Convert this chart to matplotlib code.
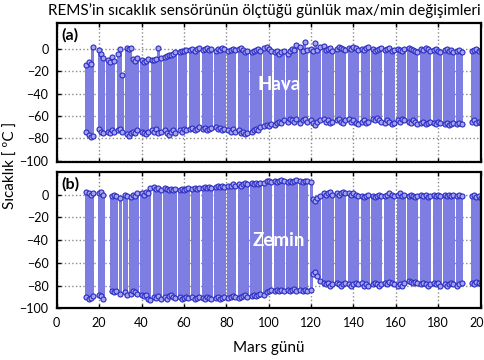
import numpy as np
import matplotlib
matplotlib.use("Agg")
import matplotlib.pyplot as plt

plt.rcParams['font.family'] = ['Lato', 'DejaVu Sans']

N = None
first_sol = 14
last_sol = 200

# Hava (air) daily max/min, sols 14..200, None = no data
hava_max = [
    -14, -12, -13, 2, N, N, -1, -4, -8, N,
    -10, -12, -7, -11, N, -4, 0, -23, N, 1,
    0, 1, -9, -11, -8, N, -10, -12, -11, -9,
    N, -10, -10, -9, 1, -8, N, -7, -6, -5,
    -5, -4, -3, N, -3, -2, -2, -1, N, -1,
    0, -2, 0, 1, N, -1, 0, 1, -1, 0,
    N, -2, 0, -1, 1, 0, N, -2, -1, 0,
    -1, N, 0, 1, -1, -3, -2, N, -3, -2,
    -1, 0, -2, N, 1, 2, 0, -2, N, -3,
    -2, -4, -3, -2, N, -4, -2, 0, -1, 4,
    N, 2, -2, 6, -1, N, 0, -2, 5, -1,
    2, N, 3, -1, 0, 1, -2, N, 0, 2,
    1, 0, -1, N, 1, 0, 2, 1, -1, N,
    0, -1, 1, 2, N, 0, -2, -1, 0, 1,
    N, -1, 0, 1, -2, -1, N, 0, -1, -2,
    0, N, 1, 0, -1, -2, -3, N, 0, -1,
    1, 0, -2, N, -1, 0, -2, -3, N, -1,
    0, -2, -1, -3, N, -2, -1, -3, N, N,
    N, N, -2, -1, 0, -2, -1,
]
hava_min = [
    -74, -77, -79, -78, N, N, -72, -74, -75, N,
    -74, -75, -73, -74, N, -73, -72, -74, N, -76,
    -78, -75, -74, -75, -73, N, -74, -75, -76, -74,
    N, -73, -74, -72, -75, -74, N, -73, -75, -77,
    -74, -73, -75, N, -73, -74, -72, -73, N, -72,
    -71, -73, -72, -70, N, -72, -71, -73, -72, -71,
    N, -70, -72, -71, -73, -72, N, -73, -74, -72,
    -74, N, -73, -75, -74, -76, -75, N, -74, -73,
    -72, -73, -70, N, -69, -68, -69, -67, N, -68,
    -66, -65, -66, -64, N, -65, -63, -64, -65, -63,
    N, -66, -64, -63, -65, N, -64, -66, -68, -65,
    -64, N, -63, -65, -64, -66, -65, N, -64, -63,
    -65, -66, -64, N, -63, -65, -64, -66, -67, N,
    -65, -64, -66, -65, N, -63, -64, -62, -64, -65,
    N, -66, -64, -65, -67, -66, N, -64, -65, -63,
    -64, N, -65, -66, -64, -65, -67, N, -66, -65,
    -67, -66, -65, N, -66, -67, -65, -66, N, -67,
    -66, -68, -67, -66, N, -67, -66, -67, N, N,
    N, N, -65, -64, -66, -65, -66,
]

# Zemin (ground) daily max/min, sols 14..200
zemin_max = [
    2, 1, 0, 1, N, N, 1, 2, 0, N,
    N, N, -1, 0, -1, N, -3, N, 0, -1,
    N, -2, 0, -1, 1, N, 1, 0, 2, 1,
    6, N, 7, 5, 6, 4, N, 6, 5, 4,
    5, 4, 5, N, 4, 5, 4, 5, 6, N,
    5, 6, 5, 6, N, 6, 7, 6, 7, 6,
    N, 7, 8, 7, 8, 7, N, 8, 8, 9,
    8, N, 9, 8, 9, 10, 9, N, 10, 9,
    10, 9, 10, N, 10, 12, 12, 11, N, 12,
    11, 12, 13, 12, N, 11, 12, 11, 12, 13,
    N, 12, 11, 12, 12, N, 11, -4, -6, -3,
    -1, N, 1, 0, 1, 2, 0, N, 1, 0,
    1, 2, 1, N, 1, 0, 1, 0, -1, N,
    -1, -2, -1, 0, N, -1, -2, -1, 0, -1,
    N, -1, 0, 1, 0, -1, N, 0, 1, -1,
    0, N, -1, 0, -1, -2, -1, N, 0, -1,
    0, -2, -1, N, 0, -1, 0, -1, N, 0,
    -1, 0, -1, 0, N, -1, 0, -1, N, N,
    N, N, -1, 0, -2, -1, -3,
]
zemin_min = [
    -90, -92, -91, -89, N, N, -88, -89, -92, N,
    N, N, -85, -86, -85, N, -87, N, -86, -88,
    N, -87, -85, -86, -87, N, -88, -89, -88, -92,
    -93, N, -90, -91, -89, -92, N, -90, -92, -89,
    -88, -90, -91, N, -90, -92, -91, -90, -91, N,
    -90, -92, -91, -90, N, -91, -92, -90, -91, -92,
    N, -91, -90, -92, -91, -90, N, -91, -90, -89,
    -90, N, -91, -90, -89, -88, -90, N, -89, -88,
    -89, -88, -87, N, -88, -86, -85, -84, N, -85,
    -84, -85, -84, -85, N, -84, -85, -84, -83, -85,
    N, -84, -85, -84, -85, N, -84, -70, -68, -72,
    -76, N, -78, -79, -78, -80, -79, N, -78, -79,
    -80, -79, -78, N, -79, -80, -79, -78, -79, N,
    -78, -80, -79, -80, N, -79, -78, -79, -80, -79,
    N, -78, -79, -77, -78, -79, N, -80, -79, -80,
    -78, N, -76, -77, -78, -77, -78, N, -79, -78,
    -79, -80, -79, N, -78, -79, -78, -80, N, -79,
    -80, -79, -78, -79, N, -80, -79, -78, N, N,
    N, N, -78, -79, -77, -78, -79,
]

x_ticks = [0, 20, 40, 60, 80, 100, 120, 140, 160, 180, 200]
y_ticks = [-100, -80, -60, -40, -20, 0]

fill_col = '#7e7ee2'
edge_col = '#2b2bc4'
face_col = '#a4a4ee'

fig = plt.figure(figsize=(4.85, 3.60), dpi=100)
ax_a = fig.add_axes([0.117, 0.551, 0.874, 0.384])
ax_b = fig.add_axes([0.117, 0.1436, 0.874, 0.379])

sols = np.arange(first_sol, last_sol + 1)


def draw_panel(ax, tmax, tmin, ylim, tag, name, name_y):
    tmax = np.array(tmax, dtype=float)
    tmin = np.array(tmin, dtype=float)
    ok = ~np.isnan(tmax) & ~np.isnan(tmin)
    s, hi, lo = sols[ok], tmax[ok], tmin[ok]
    ax.bar(s, hi - lo, bottom=lo, width=1.35, color=fill_col, linewidth=0, zorder=2)
    for v in (hi, lo):
        ax.plot(s, v, 'o', ms=3.6, mfc=face_col, mec=edge_col, mew=0.8, zorder=3)
    ax.set_xlim(0, 200)
    ax.set_ylim(*ylim)
    ax.set_xticks(x_ticks)
    ax.set_yticks(y_ticks)
    # grid sits under the blue bars, only showing in the white areas
    ax.grid(True, color='#8a8a8a', linestyle=':', linewidth=1.0, zorder=1)
    ax.set_axisbelow(True)
    ax.tick_params(direction='in', length=3, width=1, top=True, right=False,
                   labelsize=9, pad=6, colors='black')
    for sp in ax.spines.values():
        sp.set_linewidth(1.6)
        sp.set_zorder(5)
    ax.text(0.01, 0.965, tag, transform=ax.transAxes, ha='left', va='top',
            fontsize=11.5, fontweight='bold', zorder=6)
    ax.text(105, name_y, name, ha='center', va='center', color='white',
            fontsize=13.5, fontweight='bold', zorder=6)


draw_panel(ax_a, hava_max, hava_min, (-101, 23), '(a)', 'Hava', -32)
draw_panel(ax_b, zemin_max, zemin_min, (-98, 20), '(b)', 'Zemin', -40)

ax_a.tick_params(labelbottom=False)
ax_b.set_xlabel('Mars günü', fontsize=11, labelpad=9)

fig.text(0.545, 0.972, 'REMS\u2019in sıcaklık sensörünün ölçtüğü günlük max/min değişimleri',
         ha='center', va='center', fontsize=11)
fig.text(0.022, 0.54, 'Sıcaklık [ ºC ]', rotation=90, ha='center', va='center', fontsize=11)

fig.savefig('out.png', dpi=100)
